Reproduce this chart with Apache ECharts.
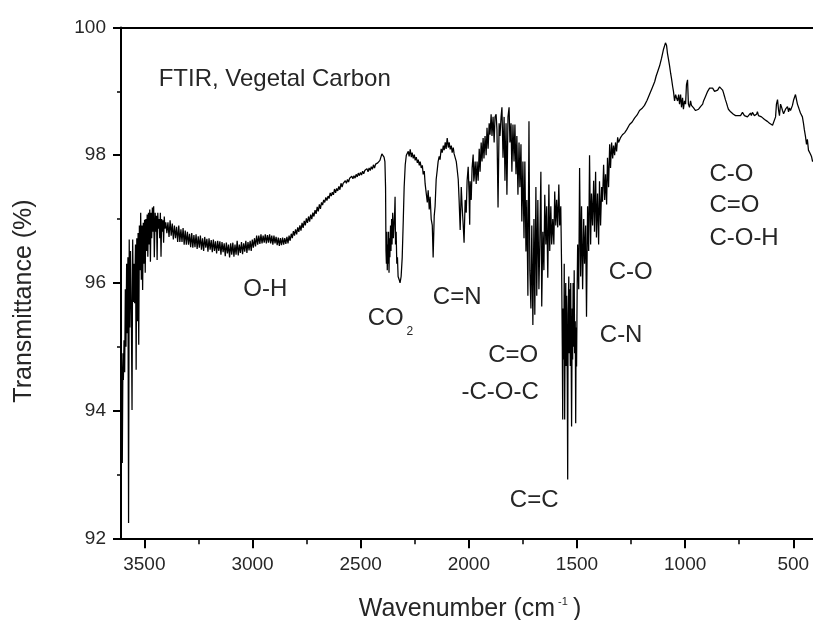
<!DOCTYPE html>
<html><head><meta charset="utf-8">
<script src="https://cdn.jsdelivr.net/npm/echarts@6/dist/echarts.min.js"></script>
<style>html,body{margin:0;padding:0;background:#fff}#c{width:813px;height:620px}</style>
</head><body><div id="c"></div>
<script>
// ---- spectrum data: [wavenumber (cm-1), transmittance (%)] ----
const ohEdgeRegion = [[3607,94.95],[3604,94.5],[3602,93.18],[3599,94.9],[3597,94.48],[3594,95.1],[3591,94.6],[3588,95.9],[3585,95.0],[3582,96.3],[3579,95.21],[3576,96.4],[3573,92.24],[3570,96.68],[3567,95.3],[3564,96.5],[3560,95.5],[3557,94.01],[3554,96.68],[3551,95.7],[3548,96.3],[3545,95.68],[3541,96.6],[3538,94.64],[3535,96.7],[3532,95.4],[3529,96.78],[3526,95.03],[3523,96.9],[3520,96.2],[3517,97.1],[3514,96.05],[3511,96.9],[3508,95.89],[3505,96.94],[3502,96.3],[3499,96.99],[3496,96.16],[3493,97.0],[3490,96.5],[3487,97.07],[3484,96.41],[3481,97.1],[3478,96.6],[3475,97.15],[3472,96.33],[3469,97.1],[3466,96.7],[3463,97.18],[3460,96.8],[3457,97.2],[3454,96.4],[3450,97.1],[3447,96.8],[3444,97.05],[3441,96.36],[3438,97.1],[3435,96.85],[3432,97.0],[3429,96.7],[3426,97.1],[3423,96.41],[3420,97.0],[3417,96.8],[3414,96.98],[3411,96.63],[3408,97.04],[3405,96.85],[3401,96.95]];
const ohBroadRegion = [[3396,96.78],[3391,96.95],[3386,96.72],[3381,96.98],[3376,96.74],[3371,96.93],[3366,96.68],[3361,96.9],[3356,96.7],[3351,96.88],[3346,96.64],[3341,96.9],[3336,96.64],[3331,96.84],[3326,96.64],[3321,96.86],[3316,96.6],[3311,96.82],[3306,96.6],[3301,96.8],[3296,96.6],[3291,96.77],[3286,96.56],[3281,96.78],[3276,96.55],[3271,96.75],[3266,96.56],[3261,96.76],[3256,96.53],[3251,96.73],[3246,96.55],[3241,96.74],[3236,96.52],[3231,96.7],[3226,96.5],[3221,96.72],[3216,96.55],[3211,96.69],[3206,96.49],[3201,96.7],[3196,96.52],[3191,96.67],[3186,96.48],[3181,96.68],[3176,96.5],[3171,96.65],[3166,96.46],[3161,96.66],[3156,96.5],[3151,96.65],[3146,96.44],[3141,96.64],[3136,96.48],[3131,96.62],[3126,96.42],[3121,96.63],[3116,96.46],[3111,96.6],[3106,96.4],[3101,96.62],[3096,96.44],[3091,96.63],[3086,96.41],[3081,96.6],[3076,96.44],[3071,96.66],[3066,96.43],[3061,96.6],[3056,96.47],[3051,96.64],[3046,96.45],[3041,96.62],[3036,96.49],[3031,96.66],[3026,96.47],[3021,96.64],[3016,96.51],[3011,96.66],[3006,96.5],[3001,96.68],[2996,96.55],[2991,96.7],[2986,96.57],[2981,96.74],[2976,96.6],[2971,96.74],[2966,96.61],[2961,96.76],[2956,96.62],[2951,96.74],[2946,96.63],[2941,96.76],[2936,96.62],[2931,96.75],[2926,96.63],[2921,96.76],[2916,96.62],[2911,96.74],[2906,96.6],[2901,96.74],[2896,96.62],[2891,96.72],[2886,96.59],[2881,96.71],[2876,96.58],[2871,96.7],[2866,96.59],[2861,96.71],[2856,96.6],[2851,96.7],[2846,96.61],[2841,96.72],[2836,96.62],[2831,96.74],[2826,96.66],[2821,96.77],[2816,96.7],[2811,96.81],[2806,96.74],[2801,96.84],[2796,96.76],[2791,96.87],[2786,96.8],[2781,96.9],[2776,96.82],[2771,96.94],[2766,96.86],[2761,96.97],[2756,96.9],[2751,97.01],[2746,96.94],[2741,97.04],[2736,96.96],[2731,97.07],[2726,97.0],[2721,97.1],[2716,97.04],[2711,97.14],[2706,97.08],[2701,97.19],[2696,97.12],[2691,97.23],[2686,97.16],[2681,97.26],[2676,97.22],[2671,97.3],[2666,97.26],[2661,97.34],[2656,97.29],[2651,97.36],[2646,97.32],[2641,97.41],[2636,97.36],[2631,97.42],[2626,97.38],[2621,97.47],[2616,97.41],[2611,97.48],[2606,97.44],[2601,97.51],[2596,97.46],[2591,97.56],[2586,97.5],[2581,97.56],[2576,97.53],[2571,97.6],[2566,97.56],[2561,97.62],[2556,97.58],[2551,97.64],[2546,97.61],[2541,97.67],[2536,97.63],[2531,97.68],[2526,97.64],[2521,97.7],[2516,97.66],[2511,97.72],[2506,97.68],[2501,97.73],[2496,97.69],[2491,97.75],[2486,97.71],[2481,97.76],[2476,97.73],[2471,97.79],[2466,97.74],[2461,97.8],[2456,97.76],[2451,97.82],[2446,97.78],[2441,97.85],[2436,97.8],[2431,97.86],[2426,97.83],[2421,97.88],[2416,97.86],[2411,97.92],[2406,97.94],[2402,98.02],[2397,98.0],[2392,97.97],[2388,97.9]];
const co2Region = [[2385,97.5],[2383,96.5],[2381,96.3],[2379,96.8],[2377,96.2],[2375,96.6],[2373,96.3],[2371,96.8],[2369,96.16],[2367,96.7],[2365,96.4],[2362,96.9],[2360,96.5],[2357,97.0],[2355,96.6],[2352,97.1],[2349,96.7],[2346,96.9],[2343,97.1],[2341,97.35],[2339,96.6],[2336,96.8],[2333,96.3],[2330,96.4],[2327,96.1],[2322,96.05],[2318,96.0],[2313,96.1],[2308,96.4],[2303,96.99],[2299,97.5],[2294,97.85],[2289,98.0]];
const cnRegion = [[2285,98.02],[2280,98.06],[2276,97.98],[2271,98.09],[2266,97.97],[2262,98.04],[2257,97.95],[2252,98.01],[2248,97.92],[2243,97.97],[2238,97.88],[2234,97.93],[2229,97.84],[2225,97.9],[2220,97.8],[2215,97.84],[2211,97.7],[2206,97.75],[2202,97.55],[2197,97.56],[2192,97.26],[2188,97.45],[2183,97.15],[2179,97.35],[2174,97.0],[2169,96.9],[2165,96.4],[2160,97.05],[2156,97.2],[2151,97.62],[2146,97.77],[2142,97.9],[2137,97.98],[2133,97.93],[2128,98.1],[2123,98.04],[2118,98.15],[2114,98.08],[2109,98.2],[2105,98.1],[2100,98.27],[2095,98.12],[2091,98.2],[2086,98.09],[2081,98.15],[2077,98.04],[2072,98.12],[2068,98.02],[2063,98.04],[2058,97.9],[2054,97.78],[2049,97.62],[2045,97.3],[2040,96.83],[2035,97.5],[2031,97.2],[2026,96.9],[2022,96.63],[2017,97.3],[2012,97.1],[2008,97.6],[2003,97.82],[1999,97.4]];
const carbonylRegion = [[1996,96.91],[1994,97.59],[1989,97.3],[1985,97.8],[1980,98.01],[1977,97.59],[1975,97.65],[1971,97.9],[1966,97.55],[1962,97.9],[1957,97.6],[1952,98.1],[1948,97.74],[1943,98.2],[1939,97.9],[1934,98.27],[1930,97.95],[1925,98.3],[1920,98.0],[1916,98.43],[1911,98.1],[1906,98.5],[1902,98.32],[1897,98.64],[1893,98.3],[1888,98.6],[1883,98.2],[1879,98.6],[1874,98.64],[1870,98.4],[1865,97.18],[1860,98.5],[1856,98.3],[1851,98.6],[1847,98.75],[1842,97.96],[1837,98.6],[1833,97.6],[1828,98.5],[1824,97.38],[1819,98.6],[1814,98.75],[1810,98.2],[1805,98.5],[1801,97.74],[1796,98.48],[1791,97.9],[1787,98.48],[1782,97.7],[1778,98.3],[1773,97.38],[1768,98.2],[1764,97.5],[1759,98.17],[1755,96.96],[1750,97.9],[1745,96.7],[1741,97.9],[1736,96.49],[1732,97.3],[1727,95.8],[1722,98.53],[1718,96.2],[1713,95.6],[1709,96.9],[1704,95.34],[1699,97.0],[1695,95.5],[1690,97.5],[1686,95.8],[1681,97.3],[1676,95.9],[1672,96.6],[1667,97.74],[1663,95.63],[1658,96.8],[1653,96.2],[1649,97.38],[1644,96.6],[1640,97.2],[1635,96.08],[1630,97.54],[1626,96.5],[1621,97.2],[1617,96.6],[1612,97.0],[1607,96.6],[1603,97.43],[1598,96.9],[1594,97.3],[1589,96.87],[1584,97.54],[1580,96.9],[1575,97.2]];
const aromaticRegion = [[1571,96.2],[1568,95.0],[1566,93.86],[1564,95.6],[1561,94.8],[1559,96.3],[1557,93.86],[1555,95.2],[1552,96.0],[1550,94.7],[1548,95.8],[1545,94.5],[1543,92.92],[1541,95.5],[1538,96.1],[1536,94.9],[1534,95.9],[1531,94.7],[1529,96.0],[1527,94.9],[1525,93.75],[1522,95.6],[1520,94.8],[1518,96.0],[1515,95.0],[1513,96.2],[1511,94.9],[1508,95.4],[1506,93.8],[1504,95.3],[1502,94.69],[1499,96.0],[1497,96.6],[1492,95.9],[1488,97.8],[1483,96.1],[1479,97.2],[1474,95.9],[1469,97.0],[1465,96.3],[1460,96.9],[1456,95.47],[1451,97.2],[1446,96.5],[1442,98.0],[1437,96.6],[1433,97.4],[1428,96.9],[1423,97.6],[1419,96.8],[1414,97.74],[1410,96.71],[1405,97.4],[1400,96.6],[1396,97.59],[1391,96.9],[1386,97.5],[1382,97.27],[1377,97.85],[1372,97.3],[1368,97.7],[1363,97.23],[1359,97.96],[1354,97.5],[1349,98.17],[1345,97.8],[1340,98.2],[1335,97.95],[1331,98.15],[1326,98.0],[1322,98.2],[1317,98.06],[1312,98.28],[1308,98.2],[1303,98.22]];
const fingerprintRegion = [[1298,98.28],[1290,98.32],[1280,98.35],[1270,98.4],[1257,98.48],[1245,98.52],[1234,98.58],[1222,98.63],[1211,98.7],[1200,98.73],[1188,98.78],[1176,98.86],[1165,98.95],[1153,99.05],[1141,99.15],[1134,99.24],[1128,99.3],[1118,99.4],[1109,99.52],[1100,99.66],[1091,99.76],[1086,99.72],[1082,99.6],[1077,99.5],[1072,99.4],[1067,99.28],[1063,99.2],[1058,99.08],[1054,99.0],[1049,98.85],[1044,98.95],[1040,98.9],[1035,98.85],[1030,98.95],[1026,98.8],[1021,98.95],[1017,98.75],[1012,98.9],[1008,98.72],[1003,98.85],[998,98.8],[994,99.1],[989,99.18],[985,98.8],[980,98.75],[975,98.85],[971,98.78],[966,98.76],[961,98.74],[956,98.72],[952,98.7],[947,98.71],[943,98.7],[938,98.72],[933,98.74],[929,98.76],[924,98.77],[919,98.8],[915,98.85],[910,98.88],[906,98.92],[901,98.95],[896,99.0],[892,99.02],[887,99.05],[882,99.07],[878,99.07],[873,99.05],[869,99.03],[864,99.0],[860,99.0],[855,99.0],[850,99.02],[846,99.04],[841,99.07],[836,99.07],[832,99.06],[827,99.02],[823,98.98],[818,98.92],[814,98.87],[809,98.82],[804,98.76],[800,98.72],[795,98.7],[790,98.68],[786,98.66],[781,98.67],[777,98.64],[772,98.62],[767,98.62],[763,98.6],[758,98.59],[754,98.62],[749,98.64],[744,98.62],[740,98.62],[735,98.67],[731,98.64],[726,98.62],[721,98.64],[717,98.6],[712,98.6],[707,98.62],[703,98.63],[698,98.66],[694,98.62],[689,98.67],[684,98.64],[680,98.62],[675,98.65],[670,98.64],[666,98.68],[661,98.62],[657,98.62],[652,98.6],[647,98.6],[643,98.59],[638,98.57],[633,98.56],[629,98.56],[624,98.55],[620,98.53],[615,98.52],[610,98.5],[606,98.49],[601,98.47],[596,98.47],[592,98.46],[587,98.45],[582,98.6],[578,98.8],[573,98.87],[568,98.7],[564,98.62],[559,98.8],[555,98.76],[550,98.7],[545,98.65],[541,98.67],[536,98.72],[532,98.7],[527,98.76],[522,98.68],[518,98.74],[513,98.7],[509,98.71],[504,98.78],[499,98.86],[495,98.87],[490,98.95],[486,98.98],[481,98.8],[476,98.75],[472,98.71],[467,98.66],[462,98.63],[458,98.6],[453,98.5],[449,98.4],[444,98.3],[439,98.17],[435,98.25],[430,98.08],[425,98.09],[421,98.02],[416,97.98],[411,97.9],[409,97.92]];

// ---- axes ----
const xMin = 409, xMax = 3608;
const xMajorTicks = [3500, 3000, 2500, 2000, 1500, 1000, 500];
const xMinorTicks = [3250, 2750, 2250, 1750, 1250, 750];
const yMin = 92, yMax = 100, yStep = 2;

// ---- annotations (text, wavenumber, transmittance) ----
const annotText = ['FTIR, Vegetal Carbon', 'O-H', 'CO', '2', 'C=N', 'C=O', '-C-O-C', 'C=C', 'C-O', 'C-N', 'C-O', 'C=O', 'C-O-H'];
const annotWn   = [3434, 2941, 2384, 2273, 2054, 1795, 1855, 1698, 1252, 1296, 888, 888, 888];
const annotT    = [99.18, 95.90, 95.45, 95.23, 95.78, 94.86, 94.29, 92.60, 96.16, 95.18, 97.70, 97.21, 96.70];

const FONT = '"Liberation Sans", Arial, Helvetica, sans-serif';
const TEXT = '#262626';
const spectrum = [].concat(ohEdgeRegion, ohBroadRegion, co2Region, cnRegion, carbonylRegion, aromaticRegion, fingerprintRegion);

const leftAligned = {0: true, 10: true, 11: true, 12: true};
const annotData = annotText.map((t, i) => {
  const size = i === 0 ? 24 : (t === '2' ? 12 : 24);
  return {
    name: t,
    value: [annotWn[i], annotT[i]],
    label: { fontSize: size, align: leftAligned[i] ? 'left' : 'center' }
  };
});

const chart = echarts.init(document.getElementById('c'), null, {renderer: 'canvas'});
const axisLineStyle = {color: '#000', width: 2};
chart.setOption({
  animation: false,
  backgroundColor: '#fff',
  grid: {left: 121, right: 0, top: 27.5, bottom: 81.7, containLabel: false},
  xAxis: [
    {
      type: 'value', inverse: true, min: xMin, max: xMax, position: 'bottom',
      axisLine: {show: true, onZero: false, lineStyle: axisLineStyle},
      axisTick: {show: true, inside: false, length: 10, customValues: xMajorTicks, lineStyle: {color: '#000', width: 2}},
      axisLabel: {show: true, customValues: xMajorTicks, formatter: v => String(v), fontSize: 19, color: TEXT, margin: 17, fontFamily: FONT},
      splitLine: {show: false}
    },
    {
      type: 'value', inverse: true, min: xMin, max: xMax, position: 'bottom',
      axisLine: {show: false, onZero: false},
      axisTick: {show: true, inside: false, length: 6, customValues: xMinorTicks, lineStyle: {color: '#000', width: 1.5}},
      axisLabel: {show: false},
      splitLine: {show: false}
    },
    {
      type: 'value', inverse: true, min: xMin, max: xMax, position: 'top',
      axisLine: {show: true, onZero: false, lineStyle: axisLineStyle},
      axisTick: {show: false}, axisLabel: {show: false}, splitLine: {show: false}
    }
  ],
  yAxis: {
    type: 'value', min: yMin, max: yMax, interval: yStep,
    axisLine: {show: true, onZero: false, lineStyle: axisLineStyle},
    axisTick: {show: true, inside: false, length: 8, lineStyle: {color: '#000', width: 2}},
    minorTick: {show: true, splitNumber: 2, length: 4, lineStyle: {color: '#000', width: 1.5}},
    axisLabel: {fontSize: 19, color: TEXT, margin: 15, fontFamily: FONT, formatter: v => String(v)},
    splitLine: {show: false}, minorSplitLine: {show: false}
  },
  graphic: [
    {
      type: 'text', x: 470, y: 609, silent: true,
      style: {
        text: '{a|Wavenumber (cm}{s|-1}{a|)}',
        align: 'center', verticalAlign: 'middle', textAlign: 'center', textVerticalAlign: 'middle',
        fill: TEXT, fontFamily: FONT, fontSize: 25,
        rich: {
          a: {fontSize: 25, fontFamily: FONT, color: TEXT, fill: TEXT, lineHeight: 26},
          s: {fontSize: 11, fontFamily: FONT, color: TEXT, fill: TEXT, verticalAlign: 'top', padding: [0, 5, 0, 3]}
        }
      }
    },
    {
      type: 'text', x: 24, y: 301, rotation: Math.PI / 2, silent: true,
      style: {
        text: 'Transmittance (%)',
        align: 'center', verticalAlign: 'middle', textAlign: 'center', textVerticalAlign: 'middle',
        fill: TEXT, fontFamily: FONT, fontSize: 25
      }
    }
  ],
  series: [
    {
      type: 'line', xAxisIndex: 0, yAxisIndex: 0,
      data: spectrum, showSymbol: false, symbol: 'none', sampling: null,
      lineStyle: {color: '#000', width: 1.25}, z: 3
    },
    {
      type: 'scatter', xAxisIndex: 0, yAxisIndex: 0, clip: false,
      symbolSize: 1, itemStyle: {color: 'rgba(0,0,0,0)'},
      data: annotData, silent: true, z: 4,
      label: {
        show: true, position: 'inside', verticalAlign: 'middle',
        formatter: p => p.name, color: TEXT, opacity: 1, fontFamily: FONT
      }
    }
  ]
});
</script>
</body></html>
